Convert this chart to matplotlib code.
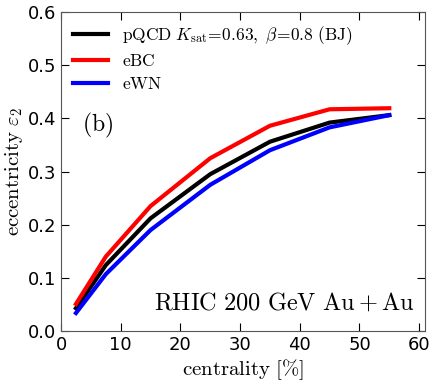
import matplotlib
matplotlib.use("Agg")
import matplotlib.pyplot as plt

plt.rcParams['mathtext.fontset'] = 'cm'

# === Data ===
centrality = [2.5, 7.5, 15, 25, 35, 45, 55]
eps2_pqcd = [0.043, 0.124, 0.212, 0.295, 0.356, 0.392, 0.406]
eps2_ebc = [0.051, 0.140, 0.235, 0.325, 0.386, 0.417, 0.419]
eps2_ewn = [0.034, 0.107, 0.190, 0.275, 0.340, 0.383, 0.406]

fig = plt.figure(figsize=(4.36, 3.85), dpi=100)
ax = fig.add_axes([0.140, 0.140, 0.835, 0.829])

ax.plot(centrality, eps2_pqcd, color='black', lw=3,
        label=r'$\mathrm{pQCD}\ K_{\rm sat}\!=\!0.63,\ \beta\!=\!0.8\ \mathrm{(BJ)}$')
ax.plot(centrality, eps2_ebc, color='red', lw=3, label=r'$\mathrm{eBC}$')
ax.plot(centrality, eps2_ewn, color='blue', lw=3, label=r'$\mathrm{eWN}$')

ax.set_xlim(0, 61)
ax.set_ylim(0, 0.6)
ax.set_xticks([0, 10, 20, 30, 40, 50, 60])
ax.set_yticks([0.0, 0.1, 0.2, 0.3, 0.4, 0.5, 0.6])
ax.tick_params(direction='in', top=True, right=True, length=6, labelsize=13)
for s in ax.spines.values():
    s.set_color('#555555')

ax.set_xlabel(r'$\mathrm{centrality}\ [\%]$', fontsize=15, labelpad=2)
ax.set_ylabel(r'$\mathrm{eccentricity}\ \varepsilon_2$', fontsize=15, labelpad=2)

ax.text(3.5, 0.387, r'$\mathrm{(b)}$', fontsize=17, va='center')
ax.text(59.3, 0.04, r'$\mathrm{RHIC\ 200\ GeV\ Au+Au}$', fontsize=17.5, ha='right', va='baseline')

ax.legend(loc='upper left', frameon=False, fontsize=12.5, handlelength=2.0,
          borderaxespad=0.3, labelspacing=0.3)

fig.savefig('out.png', dpi=100)
